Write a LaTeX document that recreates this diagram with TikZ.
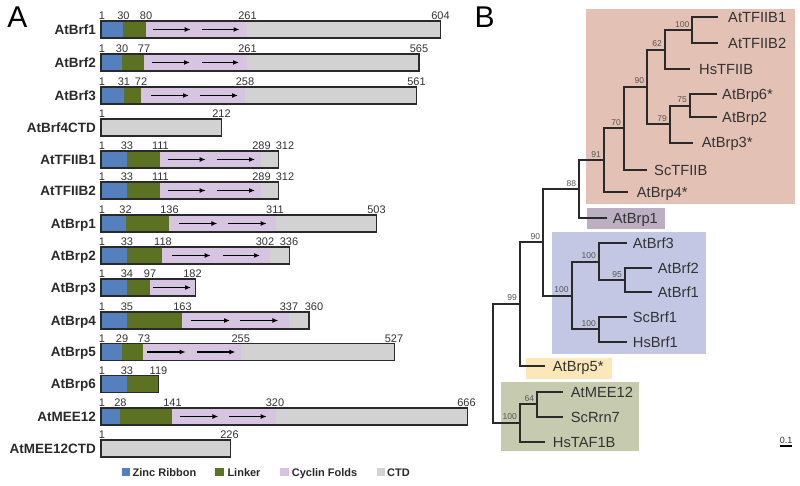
\documentclass[tikz,border=0pt]{standalone}
\usepackage{fontspec}
\setmainfont{Liberation Sans}
\usetikzlibrary{arrows.meta}
\definecolor{zr}{HTML}{5580BD}
\definecolor{lk}{HTML}{5C7222}
\definecolor{cf}{HTML}{D6C4E0}
\definecolor{ctd}{HTML}{D2D2D2}
\definecolor{pinkbox}{HTML}{E3C1B4}
\definecolor{brpbox}{HTML}{BCAFC4}
\definecolor{bluebox}{HTML}{C3C7E4}
\definecolor{yelbox}{HTML}{FCE7B9}
\definecolor{grnbox}{HTML}{C6CBAF}
\definecolor{ink}{HTML}{2A2A2A}
\definecolor{txt}{HTML}{333333}
\definecolor{boottxt}{HTML}{555555}
\tikzset{
  pname/.style={font=\bfseries\fontsize{13.5}{14}\selectfont, anchor=base east, inner sep=0pt, text=ink},
  num/.style={font=\fontsize{11}{12}\selectfont, anchor=base, inner sep=0pt, text=txt},
  frame/.style={draw=ink, line width=1.4pt},
  fold/.style={draw=black, line width=1.3pt, -{Latex[length=6pt,width=5pt]}},
  leg/.style={font=\bfseries\fontsize{11}{12}\selectfont, anchor=base west, inner sep=0pt, text=ink},
  leaf/.style={font=\fontsize{14.7}{15}\selectfont, anchor=base west, inner sep=0pt, text=txt},
  boot/.style={font=\fontsize{8.5}{9}\selectfont, anchor=base east, inner sep=0pt, text=boottxt},
  branch/.style={draw=ink, line width=2pt},
  panel/.style={font=\fontsize{30}{30}\selectfont, inner sep=0pt, text=black}
}
\newcommand\Seg[4]{\fill[#4] (#2,#1-8.5) rectangle (#3,#1+8.5);}
\newcommand\Frame[2]{\draw[frame] (101,#1-8.5) rectangle (#2,#1+8.5);}
\newcommand\Arr[3]{\draw[fold] (#2,#1) -- (#3,#1);}
\newcommand\Nums[3]{\foreach \x/\t in {#3} \node[num] (r#1-\t) at (\x,#2-10) {\t};}
\newcommand\Pname[3]{\node[pname] (p#1) at (96,#2+4.8) {#3};}
\begin{document}
\begin{tikzpicture}[x=1pt,y=-1pt]
\useasboundingbox (0,0) rectangle (800,486);
\fill[white] (0,0) rectangle (800,486);
% panel labels
\node[panel] (labA) at (17.5,17.5) {A};
\node[panel] (labB) at (484.5,17.5) {B};
% ---------- Panel A ----------
% row 1 AtBrf1
\Seg{29.5}{101}{123.3}{zr}\Seg{29.5}{123.3}{146}{lk}\Seg{29.5}{146}{247.3}{cf}\Seg{29.5}{247.3}{440.7}{ctd}
\Arr{29.5}{152.7}{190.7}\Arr{29.5}{201.7}{239.5}\Frame{29.5}{440.7}
\Nums{1}{29.5}{102/1,123.5/30,146/80,247.5/261,440.5/604}\Pname{1}{29.5}{AtBrf1}
% row 2 AtBrf2
\Seg{62.5}{101}{121.7}{zr}\Seg{62.5}{121.7}{144}{lk}\Seg{62.5}{144}{247.3}{cf}\Seg{62.5}{247.3}{419}{ctd}
\Arr{62.5}{151.7}{190}\Arr{62.5}{202}{239}\Frame{62.5}{419}
\Nums{2}{62.5}{102/1,122/30,144/77,247.5/261,419/565}\Pname{2}{62.5}{AtBrf2}
% row 3 AtBrf3
\Seg{95.5}{101}{124}{zr}\Seg{95.5}{124}{141}{lk}\Seg{95.5}{141}{245}{cf}\Seg{95.5}{245}{416.7}{ctd}
\Arr{95.5}{151}{189}\Arr{95.5}{200}{238}\Frame{95.5}{416.7}
\Nums{3}{95.5}{102/1,124/31,141/72,245/258,416.5/561}\Pname{3}{95.5}{AtBrf3}
% row 4 AtBrf4CTD
\Seg{127.5}{101}{221.3}{ctd}\Frame{127.5}{221.3}
\Nums{4}{127.5}{102/1,221.5/212}\Pname{4}{127.5}{AtBrf4CTD}
% row 5 AtTFIIB1
\Seg{159.5}{101}{126.7}{zr}\Seg{159.5}{126.7}{160.3}{lk}\Seg{159.5}{160.3}{261}{cf}\Seg{159.5}{261}{278.7}{ctd}
\Arr{159.5}{167.7}{205.7}\Arr{159.5}{216.7}{255}\Frame{159.5}{278.7}
\Nums{5}{159.5}{102/1,127/33,160.5/111,261.5/289,285/312}\Pname{5}{159.5}{AtTFIIB1}
% row 6 AtTFIIB2
\Seg{190.5}{101}{127.3}{zr}\Seg{190.5}{127.3}{160.3}{lk}\Seg{190.5}{160.3}{261}{cf}\Seg{190.5}{261}{278.7}{ctd}
\Arr{190.5}{168}{205.7}\Arr{190.5}{217}{255}\Frame{190.5}{278.7}
\Nums{6}{190.5}{102/1,127/33,160.5/111,261.5/289,285/312}\Pname{6}{190.5}{AtTFIIB2}
% row 7 AtBrp1
\Seg{223.5}{101}{126}{zr}\Seg{223.5}{126}{169.3}{lk}\Seg{223.5}{169.3}{275.7}{cf}\Seg{223.5}{275.7}{376.3}{ctd}
\Arr{223.5}{179}{217.3}\Arr{223.5}{228.3}{266.7}\Frame{223.5}{376.3}
\Nums{7}{223.5}{102/1,125.5/32,169.5/136,275/311,376.5/503}\Pname{7}{223.5}{AtBrp1}
% row 8 AtBrp2
\Seg{255.5}{101}{126.7}{zr}\Seg{255.5}{126.7}{162.3}{lk}\Seg{255.5}{162.3}{270}{cf}\Seg{255.5}{270}{289.7}{ctd}
\Arr{255.5}{172.3}{210.7}\Arr{255.5}{222.7}{260}\Frame{255.5}{289.7}
\Nums{8}{255.5}{102/1,127/33,163/118,265/302,289/336}\Pname{8}{255.5}{AtBrp2}
% row 9 AtBrp3
\Seg{287.5}{101}{126.7}{zr}\Seg{287.5}{126.7}{150}{lk}\Seg{287.5}{150}{195.3}{cf}
\Arr{287.5}{153.3}{191}\Frame{287.5}{195.3}
\Nums{9}{287.5}{102/1,127/34,150/97,192.5/182}\Pname{9}{287.5}{AtBrp3}
% row 10 AtBrp4
\Seg{320.5}{101}{126.7}{zr}\Seg{320.5}{126.7}{182.3}{lk}\Seg{320.5}{182.3}{289.3}{cf}\Seg{320.5}{289.3}{309}{ctd}
\Arr{320.5}{190.7}{230}\Arr{320.5}{240}{278.3}\Frame{320.5}{309}
\Nums{10}{320.5}{102/1,127/35,182.5/163,289/337,314/360}\Pname{10}{320.5}{AtBrp4}
% row 11 AtBrp5
\Seg{352}{101}{121.7}{zr}\Seg{352}{121.7}{143.3}{lk}\Seg{352}{143.3}{241}{cf}\Seg{352}{241}{394.3}{ctd}
\Arr{352}{147}{185.7}\Arr{352}{197.3}{235.3}\Frame{352}{394.3}
\Nums{11}{352}{102/1,122/29,144/73,240.7/255,394/527}\Pname{11}{352}{AtBrp5}
% row 12 AtBrp6
\Seg{384}{101}{126.7}{zr}\Seg{384}{126.7}{158.3}{lk}\Frame{384}{158.3}
\Nums{12}{384}{102/1,127/33,158.5/119}\Pname{12}{384}{AtBrp6}
% row 13 AtMEE12
\Seg{416.5}{101}{120}{zr}\Seg{416.5}{120}{172.3}{lk}\Seg{416.5}{172.3}{275.7}{cf}\Seg{416.5}{275.7}{467.3}{ctd}
\Arr{416.5}{180}{218.3}\Arr{416.5}{229.3}{266.7}\Frame{416.5}{467.3}
\Nums{13}{416.5}{102/1,120.5/28,172.5/141,275/320,466.5/666}\Pname{13}{416.5}{AtMEE12}
% row 14 AtMEE12CTD
\Seg{448.5}{101}{230.7}{ctd}\Frame{448.5}{230.7}
\Nums{14}{448.5}{102/1,229.5/226}\Pname{14}{448.5}{AtMEE12CTD}
% legend
\fill[zr] (121.5,467.7) rectangle (130,476.2);
\node[leg] (lg1) at (132.5,476) {Zinc Ribbon};
\fill[lk] (215,467.7) rectangle (223.5,476.2);
\node[leg] (lg2) at (227.3,476) {Linker};
\fill[cf] (280,467.7) rectangle (288.5,476.2);
\node[leg] (lg3) at (291.7,476) {Cyclin Folds};
\fill[ctd] (376.7,467.7) rectangle (385.2,476.2);
\node[leg] (lg4) at (387,476) {CTD};
% ---------- Panel B ----------
\fill[pinkbox] (586,9) rectangle (795,204);
\fill[brpbox] (586.7,208.3) rectangle (665,229.3);
\fill[bluebox] (551.7,232.3) rectangle (705.7,354.3);
\fill[yelbox] (526,357.7) rectangle (612.3,379);
\fill[grnbox] (500.7,381.7) rectangle (639.3,451);
% leaf ends
\coordinate (e1) at (718.3,17.3);
\coordinate (e2) at (718.3,43.3);
\coordinate (e3) at (690,69);
\coordinate (e4) at (716.7,94.3);
\coordinate (e5) at (716.7,117.3);
\coordinate (e6) at (693.3,142.7);
\coordinate (e7) at (646.7,170);
\coordinate (e8) at (628.3,192.3);
\coordinate (e9) at (606.7,218.3);
\coordinate (e10) at (626.7,243.3);
\coordinate (e11) at (651.7,268.3);
\coordinate (e12) at (651.7,292.3);
\coordinate (e13) at (626.7,316.7);
\coordinate (e14) at (626.7,341.7);
\coordinate (e15) at (545,365.7);
\coordinate (e16) at (563.3,391.7);
\coordinate (e17) at (563.3,416.7);
\coordinate (e18) at (545,441.7);
% leaf labels
\node[leaf] (l1) at (728,17.3+5.3) {AtTFIIB1};
\node[leaf] (l2) at (728,43.3+5.3) {AtTFIIB2};
\node[leaf] (l3) at (699,69+5.3) {HsTFIIB};
\node[leaf] (l4) at (722,94.3+5.3) {AtBrp6*};
\node[leaf] (l5) at (722,117.3+5.3) {AtBrp2};
\node[leaf] (l6) at (701.7,142.7+5.3) {AtBrp3*};
\node[leaf] (l7) at (654,170+5.3) {ScTFIIB};
\node[leaf] (l8) at (636.7,192.3+5.3) {AtBrp4*};
\node[leaf] (l9) at (612.7,218.3+5.3) {AtBrp1};
\node[leaf] (l10) at (632.7,243.3+5.3) {AtBrf3};
\node[leaf] (l11) at (657.7,268.3+5.3) {AtBrf2};
\node[leaf] (l12) at (657.7,292.3+5.3) {AtBrf1};
\node[leaf] (l13) at (632.7,316.7+5.3) {ScBrf1};
\node[leaf] (l14) at (632.7,341.7+5.3) {HsBrf1};
\node[leaf] (l15) at (552.7,365.7+5.3) {AtBrp5*};
\node[leaf] (l16) at (570.7,391.7+5.3) {AtMEE12};
\node[leaf] (l17) at (570.7,416.7+5.3) {ScRrn7};
\node[leaf] (l18) at (552.7,441.7+5.3) {HsTAF1B};
% internal nodes
\coordinate (n100a) at (692.3,30.3);
\coordinate (n62) at (665,49.65);
\coordinate (n75) at (690,105.8);
\coordinate (n79) at (670,124.25);
\coordinate (n90a) at (647.3,86.95);
\coordinate (n70) at (624,128.5);
\coordinate (n91) at (604,160.4);
\coordinate (n88) at (579.3,189.35);
\coordinate (n95) at (625,280.3);
\coordinate (n100b) at (599,261.8);
\coordinate (n100c) at (599,329.2);
\coordinate (n100d) at (571.7,295.5);
\coordinate (n90b) at (543.3,242.4);
\coordinate (n99) at (520,304);
\coordinate (n64) at (537.3,404.2);
\coordinate (n100e) at (520,422.95);
\coordinate (root) at (493.3,363.5);
% branches
\draw[branch] (n100a) |- (e1); \draw[branch] (n100a) |- (e2);
\draw[branch] (n62) |- (n100a); \draw[branch] (n62) |- (e3);
\draw[branch] (n75) |- (e4); \draw[branch] (n75) |- (e5);
\draw[branch] (n79) |- (n75); \draw[branch] (n79) |- (e6);
\draw[branch] (n90a) |- (n62); \draw[branch] (n90a) |- (n79);
\draw[branch] (n70) |- (n90a); \draw[branch] (n70) |- (e7);
\draw[branch] (n91) |- (n70); \draw[branch] (n91) |- (e8);
\draw[branch] (n88) |- (n91); \draw[branch] (n88) |- (e9);
\draw[branch] (n95) |- (e11); \draw[branch] (n95) |- (e12);
\draw[branch] (n100b) |- (e10); \draw[branch] (n100b) |- (n95);
\draw[branch] (n100c) |- (e13); \draw[branch] (n100c) |- (e14);
\draw[branch] (n100d) |- (n100b); \draw[branch] (n100d) |- (n100c);
\draw[branch] (n90b) |- (n88); \draw[branch] (n90b) |- (n100d);
\draw[branch] (n99) |- (n90b); \draw[branch] (n99) |- (e15);
\draw[branch] (n64) |- (e16); \draw[branch] (n64) |- (e17);
\draw[branch] (n100e) |- (n64); \draw[branch] (n100e) |- (e18);
\draw[branch] (root) |- (n99); \draw[branch] (root) |- (n100e);
% bootstrap values
\node[boot] (b1) at (689.5,27.5) {100};
\node[boot] (b2) at (662,46.6) {62};
\node[boot] (b3) at (687,102.8) {75};
\node[boot] (b4) at (667,121.2) {79};
\node[boot] (b5) at (644.3,83.9) {90};
\node[boot] (b6) at (621,125.5) {70};
\node[boot] (b7) at (601,157.4) {91};
\node[boot] (b8) at (576.3,186.3) {88};
\node[boot] (b9) at (622,277.3) {95};
\node[boot] (b10) at (596,258.8) {100};
\node[boot] (b11) at (596,326.2) {100};
\node[boot] (b12) at (568.7,292.5) {100};
\node[boot] (b13) at (540.3,239.4) {90};
\node[boot] (b14) at (517,301) {99};
\node[boot] (b15) at (534.3,401.2) {64};
\node[boot] (b16) at (517,419.9) {100};
% scale bar
\node[font=\fontsize{9}{10}\selectfont, anchor=base, inner sep=0pt, text=txt] (sc) at (786,443) {0.1};
\coordinate (sb1) at ([yshift=-2.5pt]sc.south west);
\coordinate (sb2) at ([yshift=-2.5pt]sc.south east);
\draw[draw=black, line width=2pt] (sb1) -- (sb2);
\end{tikzpicture}
\end{document}
